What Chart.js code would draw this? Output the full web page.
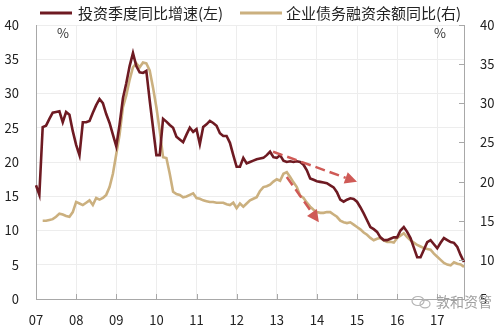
<!DOCTYPE html>
<html><head><meta charset="utf-8">
<script src="https://cdn.jsdelivr.net/npm/chart.js@4"></script>
<style>html,body{margin:0;padding:0;background:#fff;}#wrap{width:500px;height:328px;}</style>
</head><body><div id="wrap"><canvas id="c" width="500" height="328"></canvas></div>
<script>
const startYear = 2007;
const yearTickLabels = ['07','08','09','10','11','12','13','14','15','16','17'];
const seriesNames = ['投资季度同比增速(左)', '企业债务融资余额同比(右)'];

// monthly, Jan 2007 .. Sep 2017 (left axis, %)
const investYoY = [
  16.6,15.2,25.1,25.3,26.3,27.2,27.3,27.4,25.8,27.3,26.9,24.5,
  22.5,21.0,25.8,25.8,26.0,27.2,28.3,29.2,28.6,27.0,25.7,24.0,
  22.3,25.5,29.3,31.5,34.0,35.9,34.0,33.1,33.0,33.3,29.0,25.0,
  21.0,21.0,26.3,25.9,25.4,25.0,23.7,23.3,22.9,24.0,25.0,24.4,
  24.8,22.6,25.1,25.5,26.0,25.7,25.3,24.2,23.8,23.8,22.8,21.0,
  19.3,19.3,20.6,19.8,20.0,20.2,20.4,20.5,20.6,21.0,21.5,20.7,
  20.6,21.0,20.2,20.0,20.1,20.0,20.1,20.0,19.6,18.8,17.6,17.4,
  17.2,17.1,17.0,16.9,16.6,16.3,15.6,14.5,14.2,14.5,14.7,14.6,
  14.2,13.4,12.5,11.5,10.5,10.2,9.8,9.0,8.6,8.6,8.8,9.0,
  9.0,10.0,10.5,9.8,8.9,7.5,6.1,6.1,7.2,8.3,8.6,8.0,
  7.4,8.2,8.9,8.6,8.3,8.2,7.6,6.4,5.4
];
// monthly, right axis, %
const debtYoY = [
  null,null,15.0,15.0,15.1,15.2,15.5,15.9,15.8,15.6,15.5,16.1,
  17.4,17.2,17.0,17.3,17.6,17.0,17.9,17.7,17.9,18.3,19.3,21.0,
  23.5,26.0,29.5,31.0,33.0,34.6,35.1,34.6,35.2,35.1,34.2,32.0,
  29.5,26.5,23.1,23.0,21.0,18.7,18.4,18.3,18.0,18.1,18.3,18.5,
  17.9,17.8,17.6,17.5,17.4,17.4,17.3,17.3,17.3,17.1,17.0,17.3,
  16.6,17.2,16.8,17.2,17.6,17.8,18.0,18.8,19.3,19.4,19.6,20.0,
  20.3,20.1,21.0,21.2,20.6,19.9,19.3,18.2,17.9,17.3,16.8,16.4,
  16.1,16.0,16.0,16.1,16.1,15.8,15.5,15.0,14.8,14.7,14.8,14.5,
  14.2,13.9,13.5,13.2,12.8,12.5,12.7,12.8,12.5,12.3,12.3,12.2,
  12.8,13.1,13.4,12.9,12.5,12.2,11.9,11.7,11.5,11.4,11.3,10.8,
  10.4,10.0,9.6,9.4,9.3,9.7,9.5,9.4,9.1
];
// trend arrows in data coordinates: [month index, left-axis value]
const trendArrows = [
  {from: [70.9, 21.5], to: [96.0, 17.1]},
  {from: [75.0, 17.8], to: [84.6, 11.2]}
];

const months = [];
for (let i = 0; i < investYoY.length; i++) {
  const y = startYear + Math.floor(i / 12), m = i % 12 + 1;
  months.push(y + '-' + (m < 10 ? '0' + m : m));
}

const RED = '#6e1a22', TAN = '#cbb07f', ARROW = '#cf5a56';
const FONT = '"Noto Sans CJK SC", "Noto Sans", sans-serif';

const extras = {
  id: 'extras',
  afterDatasetsDraw(chart) {
    const {ctx, chartArea: a, scales: {x, y}} = chart;
    ctx.save();
    // arrows
    trendArrows.forEach(ar => {
      const x0 = x.getPixelForValue(ar.from[0]), y0 = y.getPixelForValue(ar.from[1]);
      const x1 = x.getPixelForValue(ar.to[0]), y1 = y.getPixelForValue(ar.to[1]);
      const ang = Math.atan2(y1 - y0, x1 - x0), head = 12, hw = 6;
      const bx = x1 - head * Math.cos(ang), by = y1 - head * Math.sin(ang);
      ctx.strokeStyle = ARROW; ctx.lineWidth = 2.5; ctx.setLineDash([10, 5]);
      ctx.beginPath(); ctx.moveTo(x0, y0); ctx.lineTo(bx, by); ctx.stroke();
      ctx.setLineDash([]);
      ctx.fillStyle = ARROW; ctx.beginPath();
      ctx.moveTo(x1, y1);
      ctx.lineTo(bx + hw * Math.sin(ang), by - hw * Math.cos(ang));
      ctx.lineTo(bx - hw * Math.sin(ang), by + hw * Math.cos(ang));
      ctx.closePath(); ctx.fill();
    });
    // small tick marks on bottom axis and right axis
    ctx.strokeStyle = '#a8a8a8'; ctx.lineWidth = 1;
    x.ticks.forEach((t, i) => {
      if (t.label == null) return;
      const px = Math.round(x.getPixelForTick(i)) + 0.5;
      ctx.beginPath(); ctx.moveTo(px, a.bottom); ctx.lineTo(px, a.bottom - 5); ctx.stroke();
    });
    const r = chart.scales.y1;
    r.ticks.forEach((t, i) => {
      const py = Math.round(r.getPixelForTick(i)) + 0.5;
      ctx.beginPath(); ctx.moveTo(a.right, py); ctx.lineTo(a.right - 5, py); ctx.stroke();
    });
    // percent labels
    ctx.fillStyle = '#333'; ctx.font = '13px ' + FONT; ctx.textBaseline = 'middle';
    ctx.textAlign = 'center';
    ctx.fillText('%', a.left + 27, a.top + 8);
    ctx.fillText('%', a.right - 24, a.top + 8);
    // legend
    ctx.font = '15px ' + FONT; ctx.textAlign = 'left';
    const ly = 13;
    ctx.lineWidth = 3;
    ctx.strokeStyle = RED; ctx.beginPath(); ctx.moveTo(40, ly); ctx.lineTo(72, ly); ctx.stroke();
    ctx.fillStyle = '#222'; ctx.fillText(seriesNames[0], 78, ly);
    ctx.strokeStyle = TAN; ctx.beginPath(); ctx.moveTo(240, ly); ctx.lineTo(282, ly); ctx.stroke();
    ctx.fillText(seriesNames[1], 286, ly);
    // watermark
    ctx.strokeStyle = '#b5b5b5'; ctx.lineWidth = 1.2;
    ctx.beginPath(); ctx.ellipse(418, 301, 6, 4.5, 0, 0, Math.PI * 2); ctx.stroke();
    ctx.beginPath(); ctx.ellipse(425, 304, 5, 3.8, 0, 0, Math.PI * 2); ctx.stroke();
    ctx.fillStyle = '#a0a0a0'; ctx.font = '14px ' + FONT;
    ctx.fillText('敦和资管', 436, 302);
    ctx.restore();
  }
};

new Chart(document.getElementById('c'), {
  type: 'line',
  data: {
    labels: months,
    datasets: [
      {label: seriesNames[0], data: investYoY, yAxisID: 'y', borderColor: RED, borderWidth: 2.6,
       pointRadius: 0, tension: 0, spanGaps: false},
      {label: seriesNames[1], data: debtYoY, yAxisID: 'y1', borderColor: TAN, borderWidth: 2.6,
       pointRadius: 0, tension: 0}
    ]
  },
  options: {
    responsive: false, animation: false, devicePixelRatio: 1,
    layout: {padding: {top: 25, left: 0, right: 0, bottom: 0}},
    plugins: {legend: {display: false}, tooltip: {enabled: false}},
    scales: {
      x: {
        type: 'category', offset: false,
        grid: {color: '#ededed', drawTicks: false, lineWidth: 1},
        border: {color: '#a8a8a8'},
        afterFit: s => { s.height = 29; },
        ticks: {
          autoSkip: false, maxRotation: 0, padding: 13, color: '#222',
          font: {family: FONT, size: 13},
          callback: function(v) {
            const lab = this.getLabelForValue(v);
            if (lab.slice(5) !== '01') return null;
            return yearTickLabels[parseInt(lab.slice(0, 4)) - startYear];
          }
        }
      },
      y: {
        position: 'left', min: 0, max: 40,
        grid: {color: '#ededed', drawTicks: false},
        border: {color: '#a8a8a8'},
        afterFit: s => { s.width = 36; },
        ticks: {stepSize: 5, padding: 17, color: '#222', font: {family: FONT, size: 13}}
      },
      y1: {
        position: 'right', min: 5, max: 40,
        grid: {drawOnChartArea: false, drawTicks: false},
        border: {color: '#a8a8a8'},
        afterFit: s => { s.width = 36; },
        ticks: {stepSize: 5, padding: 16, color: '#222', font: {family: FONT, size: 13}}
      }
    }
  },
  plugins: [extras]
});
</script>
</body></html>
